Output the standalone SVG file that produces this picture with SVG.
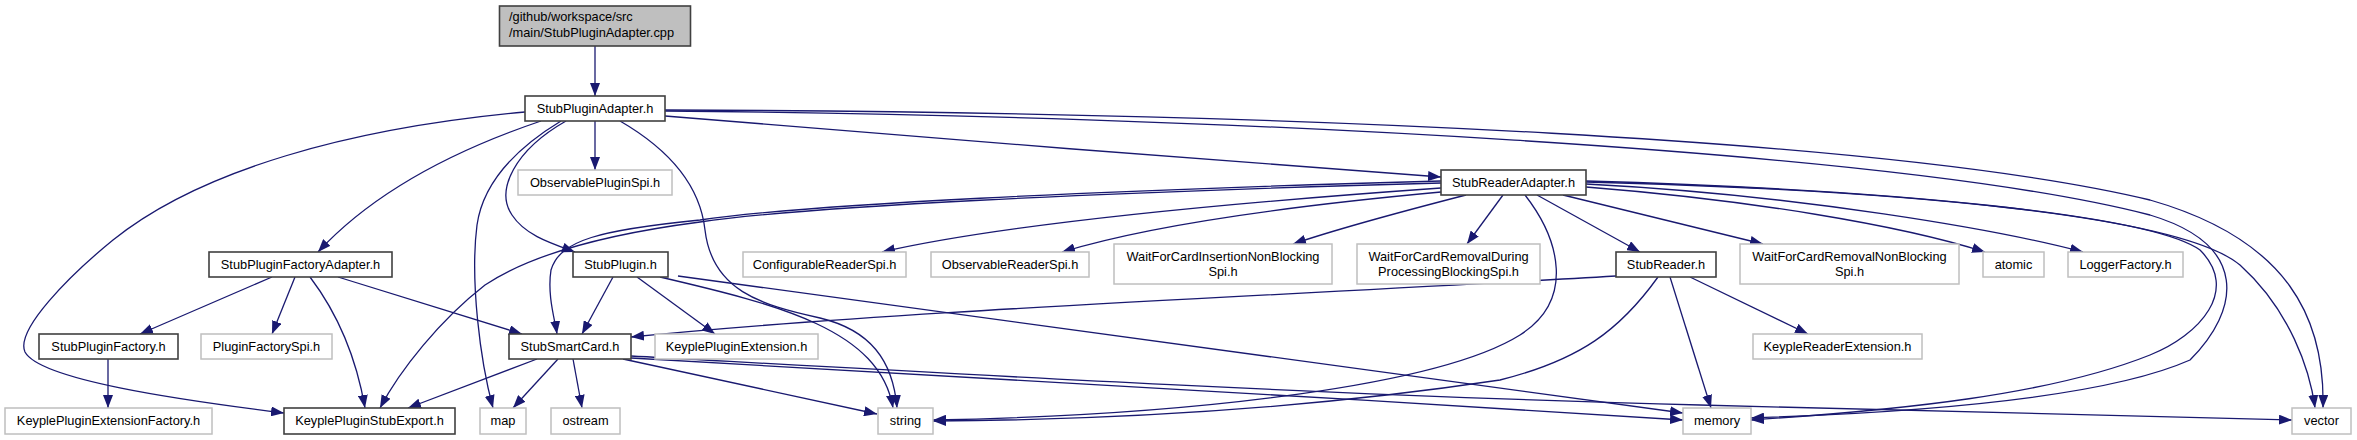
<svg xmlns="http://www.w3.org/2000/svg" width="2357" height="440" viewBox="0 0 2357 440">
<style>
.e{fill:none;stroke:#191970;stroke-width:1.3;marker-end:url(#a)}
.d rect{fill:#ffffff;stroke:#404040;stroke-width:1.6}
.g rect{fill:#ffffff;stroke:#bfbfbf;stroke-width:1.5}
.r rect{fill:#bfbfbf;stroke:#404040;stroke-width:1.6}
text{font-family:"Liberation Sans",Arial,sans-serif;font-size:12.8px;fill:#000000}
.c{text-anchor:middle}
</style>
<defs>
<marker id="a" markerUnits="userSpaceOnUse" markerWidth="13" markerHeight="10" refX="13" refY="5" orient="auto"><path d="M0,0 L13,5 L0,10 z" fill="#191970"/></marker>
</defs>
<rect width="2357" height="440" fill="#ffffff"/>
<g id="connectors">
<path class="e" d="M595,46 L595,96"/>
<path class="e" d="M595,121 L595,170"/>
<path class="e" d="M665,116 C900,135 1200,160 1441,177"/>
<path class="e" d="M541,121 C470,145 380,185 318,252"/>
<path class="e" d="M525,112 C350,128 200,170 113,240 C70,275 15,330 25,352 C40,380 180,400 284,413"/>
<path class="e" d="M566,121 C515,150 495,190 512,215 C525,235 550,243 575,252"/>
<path class="e" d="M561,121 C505,155 482,190 477,225 C470,280 480,360 493,408"/>
<path class="e" d="M620,121 C670,150 700,185 705,230 C712,290 760,305 820,318 C870,330 893,360 897,408"/>
<path class="e" d="M665,110 C1300,112 1900,140 2150,200 C2290,240 2325,320 2323,408"/>
<path class="e" d="M665,111 C1200,115 1900,150 2150,215 C2250,245 2240,310 2190,360 C2100,400 1900,413 1751,418"/>
<path class="e" d="M1441,188 C1200,205 1000,225 882,252"/>
<path class="e" d="M1441,192 C1300,205 1150,225 1062,252"/>
<path class="e" d="M1466,195 C1400,212 1340,228 1293,244"/>
<path class="e" d="M1503,195 L1467,244"/>
<path class="e" d="M1537,195 L1640,252"/>
<path class="e" d="M1525,195 C1560,240 1575,300 1520,335 C1440,385 1200,415 933,420"/>
<path class="e" d="M1563,195 L1763,244"/>
<path class="e" d="M1586,187 C1750,200 1900,225 1985,252"/>
<path class="e" d="M1586,184 C1800,195 2000,230 2083,252"/>
<path class="e" d="M1586,181 C1900,190 2150,215 2200,250 C2240,290 2200,335 2150,355 C2050,395 1900,410 1751,420"/>
<path class="e" d="M1586,182 C1900,190 2180,215 2240,265 C2290,310 2310,370 2315,408"/>
<path class="e" d="M1441,181 C1100,190 800,205 700,220 C600,230 560,240 551,270 C547,295 555,320 557,334"/>
<path class="e" d="M1441,183 C1100,192 800,207 700,222 C600,235 530,255 485,285 C440,320 400,370 380,408"/>
<path class="e" d="M272,277 L140,334"/>
<path class="e" d="M295,277 L272,334"/>
<path class="e" d="M310,277 C335,310 355,350 365,408"/>
<path class="e" d="M338,277 L522,334"/>
<path class="e" d="M108,359 L108,408"/>
<path class="e" d="M613,277 L582,334"/>
<path class="e" d="M637,277 L715,334"/>
<path class="e" d="M660,277 C780,305 880,330 893,408"/>
<path class="e" d="M678,276 L1683,413"/>
<path class="e" d="M537,359 L408,408"/>
<path class="e" d="M558,359 L513,408"/>
<path class="e" d="M573,359 L582,408"/>
<path class="e" d="M623,359 L877,414"/>
<path class="e" d="M631,358 C800,368 1300,395 1683,420"/>
<path class="e" d="M631,356 C800,365 1300,395 1700,405 C1900,410 2100,415 2292,420"/>
<path class="e" d="M1616,276 C1300,295 900,310 631,337"/>
<path class="e" d="M1658,277 C1620,330 1580,360 1500,380 C1300,410 1100,420 933,421"/>
<path class="e" d="M1670,277 L1711,408"/>
<path class="e" d="M1690,277 L1808,334"/>
</g>
<g id="n-cpp" class="r"><rect x="499.5" y="6" width="191" height="40"/><text x="509" y="21">/github/workspace/src</text><text x="509" y="37">/main/StubPluginAdapter.cpp</text></g>
<g id="n-spa" class="d"><rect x="525" y="96" width="140" height="25"/><text class="c" x="595" y="113">StubPluginAdapter.h</text></g>
<g id="n-ops" class="g"><rect x="518" y="170" width="154" height="25"/><text class="c" x="595" y="187">ObservablePluginSpi.h</text></g>
<g id="n-spfa" class="d"><rect x="209" y="252" width="183" height="25"/><text class="c" x="300.5" y="269">StubPluginFactoryAdapter.h</text></g>
<g id="n-spf" class="d"><rect x="39" y="334" width="139" height="25"/><text class="c" x="108.5" y="351">StubPluginFactory.h</text></g>
<g id="n-pfs" class="g"><rect x="201" y="334" width="131" height="25"/><text class="c" x="266.5" y="351">PluginFactorySpi.h</text></g>
<g id="n-kpef" class="g"><rect x="5" y="408" width="207" height="26"/><text class="c" x="108.5" y="425">KeyplePluginExtensionFactory.h</text></g>
<g id="n-kpse" class="d"><rect x="284" y="408" width="171" height="26"/><text class="c" x="369.5" y="425">KeyplePluginStubExport.h</text></g>
<g id="n-sp" class="d"><rect x="573" y="252" width="95" height="25"/><text class="c" x="620.5" y="269">StubPlugin.h</text></g>
<g id="n-ssc" class="d"><rect x="509" y="334" width="122" height="25"/><text class="c" x="570" y="351">StubSmartCard.h</text></g>
<g id="n-kpe" class="g"><rect x="655" y="334" width="163" height="25"/><text class="c" x="736.5" y="351">KeyplePluginExtension.h</text></g>
<g id="n-map" class="g"><rect x="480" y="408" width="46" height="26"/><text class="c" x="503" y="425">map</text></g>
<g id="n-ostream" class="g"><rect x="551" y="408" width="69" height="26"/><text class="c" x="585.5" y="425">ostream</text></g>
<g id="n-string" class="g"><rect x="878" y="408" width="55" height="26"/><text class="c" x="905.5" y="425">string</text></g>
<g id="n-crs" class="g"><rect x="743" y="252" width="163" height="25"/><text class="c" x="824.5" y="269">ConfigurableReaderSpi.h</text></g>
<g id="n-ors" class="g"><rect x="931" y="252" width="158" height="25"/><text class="c" x="1010" y="269">ObservableReaderSpi.h</text></g>
<g id="n-wfci" class="g"><rect x="1114" y="244" width="218" height="40"/><text class="c" x="1223" y="261">WaitForCardInsertionNonBlocking</text><text class="c" x="1223" y="276">Spi.h</text></g>
<g id="n-wfcrd" class="g"><rect x="1357" y="244" width="183" height="40"/><text class="c" x="1448.5" y="261">WaitForCardRemovalDuring</text><text class="c" x="1448.5" y="276">ProcessingBlockingSpi.h</text></g>
<g id="n-sra" class="d"><rect x="1441" y="170" width="145" height="25"/><text class="c" x="1513.5" y="187">StubReaderAdapter.h</text></g>
<g id="n-sr" class="d"><rect x="1616" y="252" width="100" height="25"/><text class="c" x="1666" y="269">StubReader.h</text></g>
<g id="n-wfcrn" class="g"><rect x="1740" y="244" width="219" height="40"/><text class="c" x="1849.5" y="261">WaitForCardRemovalNonBlocking</text><text class="c" x="1849.5" y="276">Spi.h</text></g>
<g id="n-kre" class="g"><rect x="1753" y="334" width="169" height="25"/><text class="c" x="1837.5" y="351">KeypleReaderExtension.h</text></g>
<g id="n-atomic" class="g"><rect x="1983" y="252" width="61" height="25"/><text class="c" x="2013.5" y="269">atomic</text></g>
<g id="n-logger" class="g"><rect x="2068" y="252" width="115" height="25"/><text class="c" x="2125.5" y="269">LoggerFactory.h</text></g>
<g id="n-memory" class="g"><rect x="1683" y="408" width="68" height="26"/><text class="c" x="1717" y="425">memory</text></g>
<g id="n-vector" class="g"><rect x="2292" y="408" width="59" height="26"/><text class="c" x="2321.5" y="425">vector</text></g>
</svg>
